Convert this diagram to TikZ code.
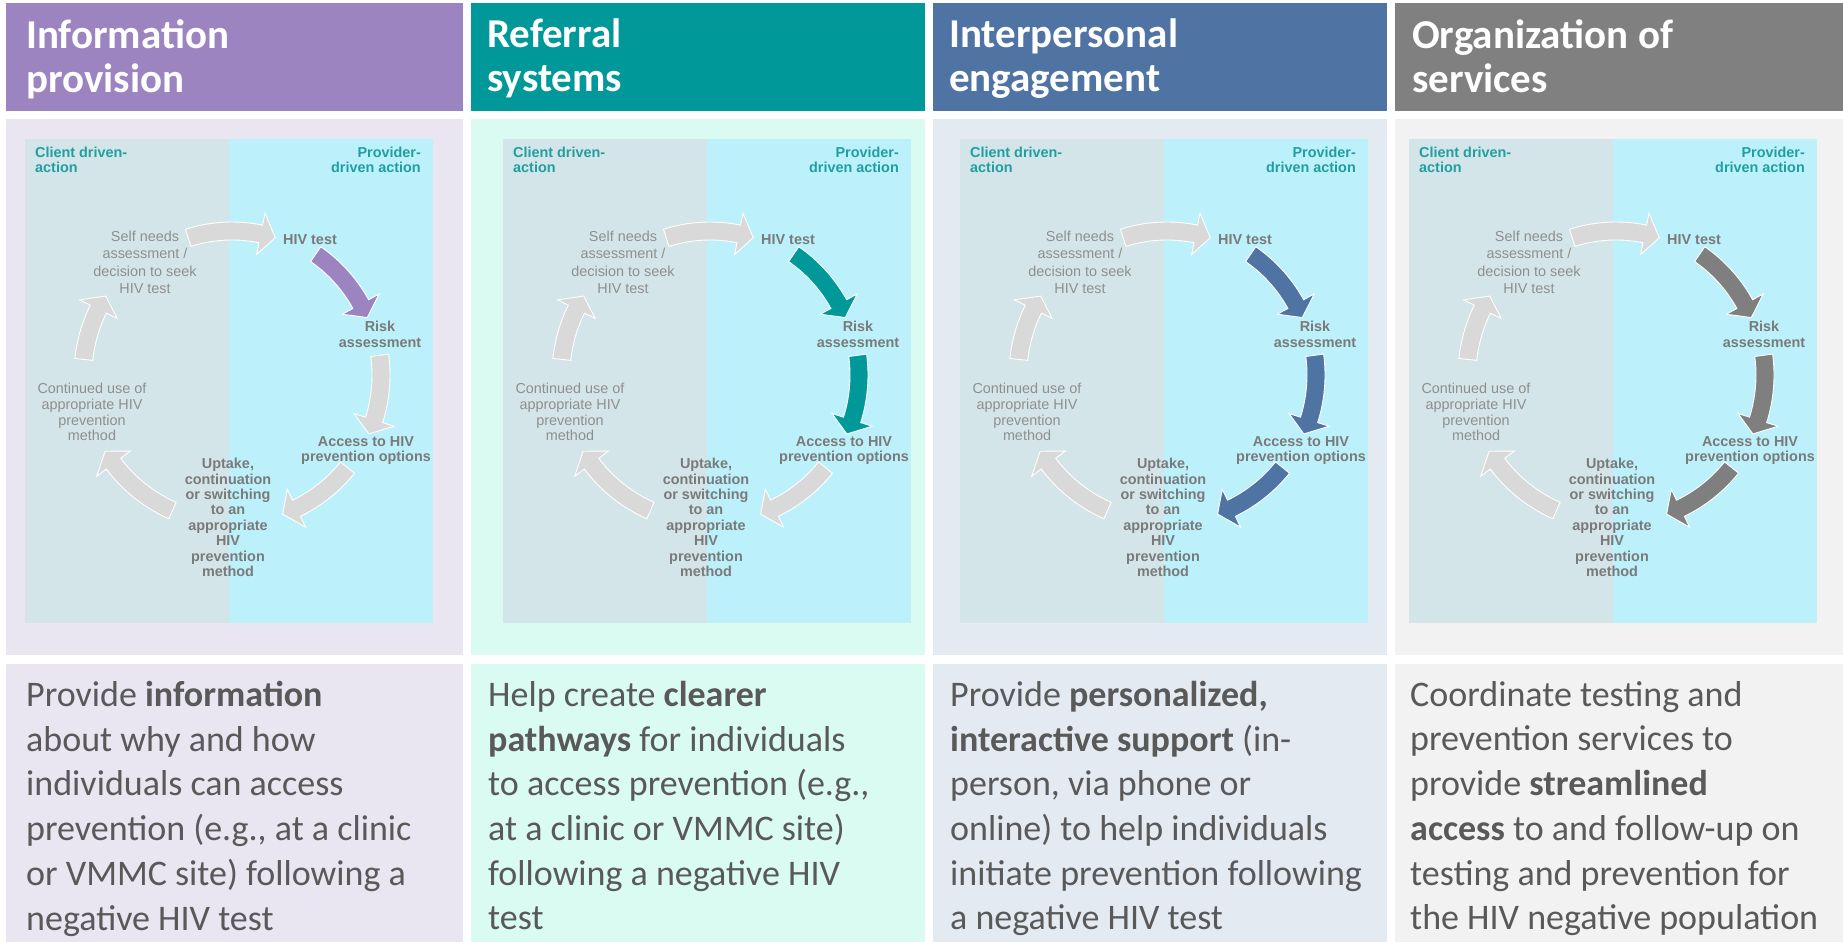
\documentclass[tikz,border=0pt]{standalone}
\usepackage{fontspec}
\setmainfont{Carlito}
\newfontfamily\arialf{Liberation Sans}
\definecolor{hdrA}{HTML}{9B84C0}
\definecolor{hdrB}{HTML}{009898}
\definecolor{hdrC}{HTML}{4F73A3}
\definecolor{hdrD}{HTML}{808080}
\definecolor{bgA}{HTML}{E9E5F1}
\definecolor{bgB}{HTML}{D9FBF1}
\definecolor{bgC}{HTML}{E4EAF2}
\definecolor{bgD}{HTML}{F2F2F2}
\definecolor{leftbg}{HTML}{D3E5E8}
\definecolor{rightbg}{HTML}{BCF1FC}
\definecolor{tealtxt}{HTML}{1F9FA0}
\definecolor{lighttxt}{HTML}{8F8F8F}
\definecolor{boldtxt}{HTML}{7A7A7A}
\definecolor{grayarrow}{HTML}{D9D9D9}
\definecolor{darkarrow}{HTML}{7F7F7F}
\definecolor{bodytxt}{HTML}{595959}
\tikzset{
  titletext/.style={anchor=north west, inner sep=0pt, align=left, text=white,
    font={\fontsize{41}{44}\selectfont\bfseries}},
  bodytext/.style={anchor=north west, inner sep=0pt, align=left, text=bodytxt,
    font={\fontsize{36}{44.7}\selectfont}},
  sidelabel/.style={inner sep=0pt, text=tealtxt, font={\arialf\bfseries\fontsize{14.4}{15}\selectfont}},
  steplight/.style={anchor=north, inner sep=0pt, align=center, text=lighttxt},
  stepbold/.style={inner sep=0pt, align=center, text=boldtxt},
  blockarrow/.style={draw=white, line width=0.9pt, line join=miter},
}
\newcommand\cycarrow[4]{%
  \pgfmathsetmacro\aaA{#2}\pgfmathsetmacro\aaB{#3}\pgfmathsetmacro\aaR{#4}%
  \pgfmathsetmacro\aaM{\aaB-15/\aaR*57.2958}%
  \pgfmathsetmacro\aaO{\aaR+9}\pgfmathsetmacro\aaI{\aaR-9}%
  \pgfmathsetmacro\aaHo{\aaR+21}\pgfmathsetmacro\aaHi{\aaR-21}%
  \filldraw[blockarrow, fill=#1] plot[domain=\aaA:\aaM, samples=20] ({\aaO*cos(\x)},{\aaO*sin(\x)})
    -- (\aaM:\aaHo) -- (\aaB:\aaR) -- (\aaM:\aaHi)
    -- plot[domain=\aaM:\aaA, samples=20] ({\aaI*cos(\x)},{\aaI*sin(\x)}) -- cycle;}
\newcommand\cyclediagram[5]{%
  \begin{scope}[shift={(#2,0)}]
    \fill[leftbg] (0,139) rectangle (204,623);
    \fill[rightbg] (204,139) rectangle (408,623);
    \node[sidelabel, anchor=north west, align=left] (#1client) at (10,147) {Client driven-\\action};
    \node[sidelabel, anchor=north east, align=right] (#1provider) at (396,147) {Provider-\\driven action};
    \begin{scope}[shift={(207,375)}]
      \cycarrow{grayarrow}{-107.7}{-72.5}{144}
      \cycarrow{#3}{-55.3}{-23}{147}
      \cycarrow{#4}{-7.6}{23.3}{149}
      \cycarrow{#5}{38.7}{70}{148}
      \cycarrow{grayarrow}{113.7}{149}{148}
      \cycarrow{grayarrow}{186}{212}{149}
    \end{scope}
    \node[steplight, font={\arialf\fontsize{14.4}{17.3}\selectfont}] (#1self) at (120,231)
      {Self needs\\assessment /\\decision to seek\\HIV test};
    \node[stepbold, anchor=north west, font={\arialf\bfseries\fontsize{14.4}{15.4}\selectfont}] (#1test) at (258,234) {HIV test};
    \node[stepbold, anchor=north, font={\arialf\bfseries\fontsize{14.4}{15.4}\selectfont}] (#1risk) at (355,321) {Risk\\assessment};
    \node[stepbold, anchor=north, font={\arialf\bfseries\fontsize{14.4}{15}\selectfont}] (#1access) at (341,436) {Access to HIV\\prevention options};
    \node[stepbold, anchor=north, font={\arialf\bfseries\fontsize{14.4}{15.4}\selectfont}] (#1uptake) at (203,458)
      {Uptake,\\continuation\\or switching\\to an\\appropriate\\HIV\\prevention\\method};
    \node[steplight, font={\arialf\fontsize{14.4}{15.7}\selectfont}] (#1cont) at (67,383)
      {Continued use of\\appropriate HIV\\prevention\\method};
  \end{scope}}
\begin{document}
\begin{tikzpicture}[x=1pt, y=-1pt]
  \useasboundingbox (0,0) rectangle (1843,942);
  \fill[white] (0,0) rectangle (1843,942);
  % panel backgrounds
  \fill[hdrA] (6,3) rectangle (463,111);
  \fill[hdrB] (471,3) rectangle (925,111);
  \fill[hdrC] (933,3) rectangle (1387,111);
  \fill[hdrD] (1395,3) rectangle (1843,111);
  \fill[bgA] (6,119) rectangle (463,655);
  \fill[bgB] (471,119) rectangle (925,655);
  \fill[bgC] (933,119) rectangle (1387,655);
  \fill[bgD] (1395,119) rectangle (1843,655);
  \fill[bgA] (6,664) rectangle (463,942);
  \fill[bgB] (471,664) rectangle (925,942);
  \fill[bgC] (933,664) rectangle (1387,942);
  \fill[bgD] (1395,664) rectangle (1843,942);
  % titles
  \node[titletext] (titleA) at (26,19) {Information\\provision};
  \node[titletext] (titleB) at (487,19) {Referral\\systems};
  \node[titletext] (titleC) at (949,19) {Interpersonal\\engagement};
  \node[titletext] (titleD) at (1412,19) {Organization of\\services};
  % diagrams
  \cyclediagram{a}{25}{hdrA}{grayarrow}{grayarrow}
  \cyclediagram{b}{503}{hdrB}{hdrB}{grayarrow}
  \cyclediagram{c}{960}{hdrC}{hdrC}{hdrC}
  \cyclediagram{d}{1409}{darkarrow}{darkarrow}{darkarrow}
  % body texts
  \node[bodytext] (textA) at (26,681) {Provide \textbf{information}\\about why and how\\individuals can access\\prevention (e.g., at a clinic\\or VMMC site) following a\\negative HIV test};
  \node[bodytext] (textB) at (488,681) {Help create \textbf{clearer}\\\textbf{pathways} for individuals\\to access prevention (e.g.,\\at a clinic or VMMC site)\\following a negative HIV\\test};
  \node[bodytext] (textC) at (950,681) {Provide \textbf{personalized,}\\\textbf{interactive support} (in-\\person, via phone or\\online) to help individuals\\initiate prevention following\\a negative HIV test};
  \node[bodytext] (textD) at (1410,681) {Coordinate testing and\\prevention services to\\provide \textbf{streamlined}\\\textbf{access} to and follow-up on\\testing and prevention for\\the HIV negative population};
\end{tikzpicture}
\end{document}
